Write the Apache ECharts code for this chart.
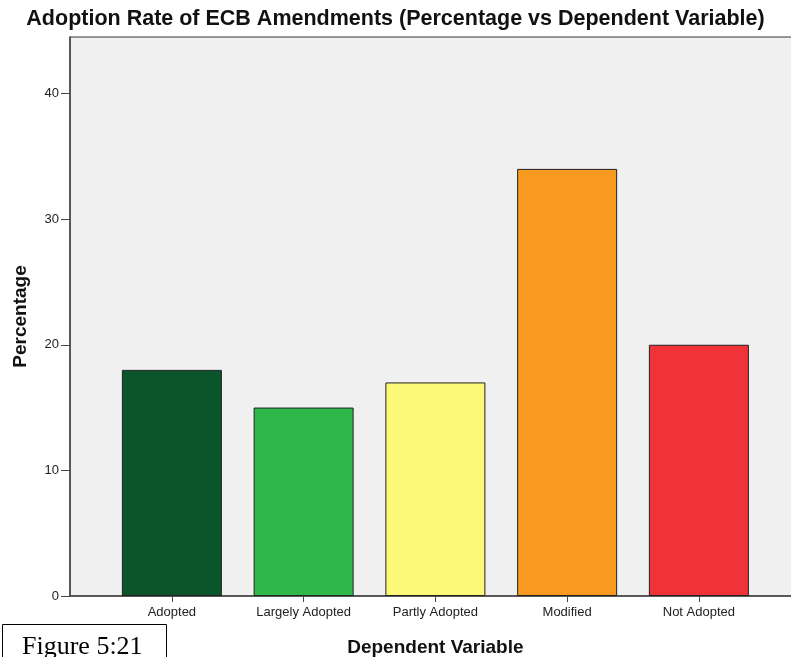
<!DOCTYPE html>
<html><head><meta charset="utf-8">
<script src="https://cdn.jsdelivr.net/npm/echarts@6/dist/echarts.min.js"></script>
<style>html,body{margin:0;padding:0;background:#fff}#c{width:791px;height:657px}</style>
</head><body><div id="c"></div>
<script>
const categories = ["Adopted", "Largely Adopted", "Partly Adopted", "Modified", "Not Adopted"];
const percentages = [18, 15, 17, 34, 20];
const barColors = ["#0b552d", "#2fb84a", "#fdf877", "#f89a1f", "#ef3338"];
const yTicks = [0, 10, 20, 30, 40];

const chart = echarts.init(document.getElementById('c'), null, {renderer: 'canvas', width: 791, height: 657});
const yMin = yTicks[0], yMax = 44.5;
const font = 'Liberation Sans, Arial, sans-serif';
chart.setOption({
  animation: false,
  backgroundColor: '#ffffff',
  title: {
    text: 'Adoption Rate of ECB Amendments (Percentage vs Dependent Variable)',
    left: 'center', top: 3,
    textStyle: {fontFamily: font, fontSize: 21.5, fontWeight: 'bold', color: '#111'}
  },
  grid: [
    {left: 70, top: 37, right: -2, bottom: 61, show: true, backgroundColor: '#f0f0f0', borderColor: '#333', borderWidth: 1,
     containLabel: false, outerBoundsMode: 'none'},
    {left: 106, top: 37, right: 26.25, bottom: 61, containLabel: false, outerBoundsMode: 'none'}
  ],
  xAxis: [
    {type: 'value', gridIndex: 0, min: 0, max: 1, axisLine: {show: true, onZero: false, lineStyle: {color: '#444', width: 1.5}},
     axisTick: {show: false}, axisLabel: {show: false}, splitLine: {show: false}},
    {type: 'category', gridIndex: 1, data: categories,
     axisLine: {show: false}, axisTick: {show: true, alignWithLabel: true, length: 6, lineStyle: {color: '#444'}},
     axisLabel: {fontFamily: font, fontSize: 13, color: '#222', margin: 10},
     name: 'Dependent Variable', nameLocation: 'middle', nameGap: 42,
     nameTextStyle: {fontFamily: font, fontSize: 19, fontWeight: 'bold', color: '#111'}}
  ],
  yAxis: [
    {type: 'value', gridIndex: 0, min: yMin, max: yMax,
     axisLine: {show: true, lineStyle: {color: '#444', width: 1.5}},
     axisTick: {show: true, length: 9, customValues: yTicks, lineStyle: {color: '#444'}},
     axisLabel: {fontFamily: font, fontSize: 13, color: '#222', margin: 11, customValues: yTicks},
     splitLine: {show: false},
     name: 'Percentage', nameLocation: 'middle', nameGap: 40, nameRotate: 90,
     nameTextStyle: {fontFamily: font, fontSize: 19, fontWeight: 'bold', color: '#111'}},
    {type: 'value', gridIndex: 1, min: yMin, max: yMax, show: false}
  ],
  series: [{
    type: 'bar', xAxisIndex: 1, yAxisIndex: 1, barWidth: 100,
    data: percentages.map((v, i) => ({value: v, itemStyle: {color: barColors[i]}})),
    itemStyle: {borderColor: '#222', borderWidth: 1}
  }],
  graphic: [
    {type: 'rect', left: 2, top: 624, shape: {width: 164, height: 40}, style: {fill: '#fff', stroke: '#000', lineWidth: 1}},
    {type: 'text', left: 22, top: 634, style: {text: 'Figure 5:21', fontFamily: 'Liberation Serif, Times New Roman, serif', fontSize: 26, fill: '#000'}}
  ]
});
</script></body></html>
